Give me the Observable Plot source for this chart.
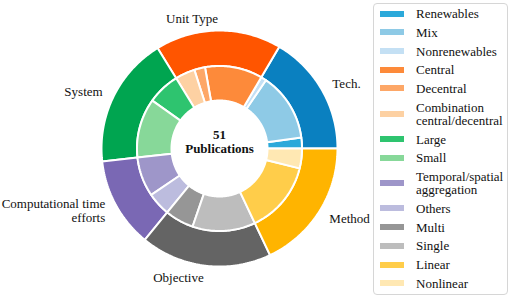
<!DOCTYPE html>
<html><head><meta charset="utf-8">
<script src="https://cdn.jsdelivr.net/npm/d3@7"></script>
<script src="https://cdn.jsdelivr.net/npm/@observablehq/plot@0.6"></script>
<style>
body{margin:0;background:#fff;}
#wrap{position:relative;width:512px;height:298px;font-family:"Liberation Serif","Times New Roman",serif;}
#legend{position:absolute;left:373px;top:3px;width:135px;height:292px;box-sizing:border-box;border:1px solid #d6d6d6;border-radius:4px;padding:0.3px 0 0 6px;background:#fff;}
.item{display:flex;align-items:center;height:18.7px;}
.item.two{height:32px;}
.sw{width:24px;height:6px;flex:none;margin-right:12px;}
.lab{font-size:13px;line-height:13px;white-space:pre-line;color:#111;}
</style></head><body><div id="wrap"><div id="chart"></div><div id="legend"></div></div>
<script>
// ---- data ----
const publications = 51;
const groups = ["Tech.", "Unit Type", "System", "Computational time\nefforts", "Objective", "Method"];
const groupColors = ["#0a80c0", "#ff5500", "#00a550", "#7a68b4", "#646464", "#ffb400"];
const subcategories = ["Renewables", "Mix", "Nonrenewables", "Central", "Decentral",
  "Combination\ncentral/decentral", "Large", "Small", "Temporal/spatial\naggregation",
  "Others", "Multi", "Single", "Linear", "Nonlinear"];
const subGroup = [0, 0, 0, 1, 1, 1, 2, 2, 3, 3, 4, 4, 5, 5];
const subCounts = [6, 38, 3, 32, 6, 11, 18, 33, 22, 13, 16, 35, 40, 11];
const subColors = ["#2ba9da", "#8ecae6", "#c4e0f4", "#fd8a3a", "#fda767", "#fdd1a3",
  "#2ec46f", "#87d899", "#9e96c9", "#bcbcde", "#969696", "#bdbdbd", "#ffcd4a", "#ffe8b3"];

// ---- layout ----
const R_HOLE = 48, R_MID = 82.5, R_OUT = 118, R_LABEL = 130;
const unit = 360 / d3.sum(subCounts);
let acc = 0;
const subSlices = subcategories.map((name, i) => {
  const a0 = acc; acc += subCounts[i] * unit;
  return {name, a0, a1: acc, color: subColors[i], group: subGroup[i]};
});
const groupSlices = groups.map((name, g) => {
  const s = subSlices.filter(d => d.group === g);
  return {name, a0: d3.min(s, d => d.a0), a1: d3.max(s, d => d.a1), color: groupColors[g]};
});
const rad = a => a * Math.PI / 180;
function wedgePoints(slices, r0, r1, prefix) {
  const pts = [];
  slices.forEach((s, k) => {
    const key = prefix + k;
    const n = Math.max(2, Math.ceil((s.a1 - s.a0) / 1));
    const ring = [];
    for (let i = 0; i <= n; i++) { const a = rad(s.a0 + (s.a1 - s.a0) * i / n); ring.push([r1 * Math.cos(a), r1 * Math.sin(a)]); }
    for (let i = n; i >= 0; i--) { const a = rad(s.a0 + (s.a1 - s.a0) * i / n); ring.push([r0 * Math.cos(a), r0 * Math.sin(a)]); }
    ring.push(ring[0]);
    ring.forEach(p => pts.push({key, x: p[0], y: p[1], color: s.color}));
  });
  return pts;
}
const outerPts = wedgePoints(groupSlices, R_MID, R_OUT, "g");
const innerPts = wedgePoints(subSlices, R_HOLE, R_MID, "s");
const labels = groupSlices.map(g => {
  const m = rad((g.a0 + g.a1) / 2);
  return {label: g.name, x: R_LABEL * Math.cos(m), y: R_LABEL * Math.sin(m), right: Math.cos(m) >= 0};
});

const chart = Plot.plot({
  width: 512, height: 298, margin: 0,
  x: {domain: [-219, 293], axis: null},
  y: {domain: [-150, 148], axis: null},
  color: {type: "identity"},
  style: {fontFamily: "'Liberation Serif','Times New Roman',serif", fontSize: "13px", background: "transparent", color: "#111"},
  marks: [
    Plot.line(outerPts, {x: "x", y: "y", z: "key", fill: "color", stroke: "white", strokeWidth: 2, strokeLinejoin: "miter"}),
    Plot.line(innerPts, {x: "x", y: "y", z: "key", fill: "color", stroke: "white", strokeWidth: 2, strokeLinejoin: "miter"}),
    Plot.text(labels.filter(d => d.right), {x: "x", y: "y", text: "label", textAnchor: "start", fontSize: 13, lineHeight: 1.08}),
    Plot.text(labels.filter(d => !d.right), {x: "x", y: "y", text: "label", textAnchor: "end", fontSize: 13, lineHeight: 1.08}),
    Plot.text([`${publications}\nPublications`], {x: () => 0, y: () => 7, text: d => d, fontWeight: "bold", fontSize: 13, lineHeight: 1.1})
  ]
});
document.getElementById("chart").appendChild(chart);

const legend = d3.select("#legend");
subcategories.forEach((name, i) => {
  const it = legend.append("div").attr("class", "item" + (name.includes("\n") ? " two" : ""));
  it.append("span").attr("class", "sw").style("background", subColors[i]);
  it.append("span").attr("class", "lab").text(name);
});
</script></body></html>
